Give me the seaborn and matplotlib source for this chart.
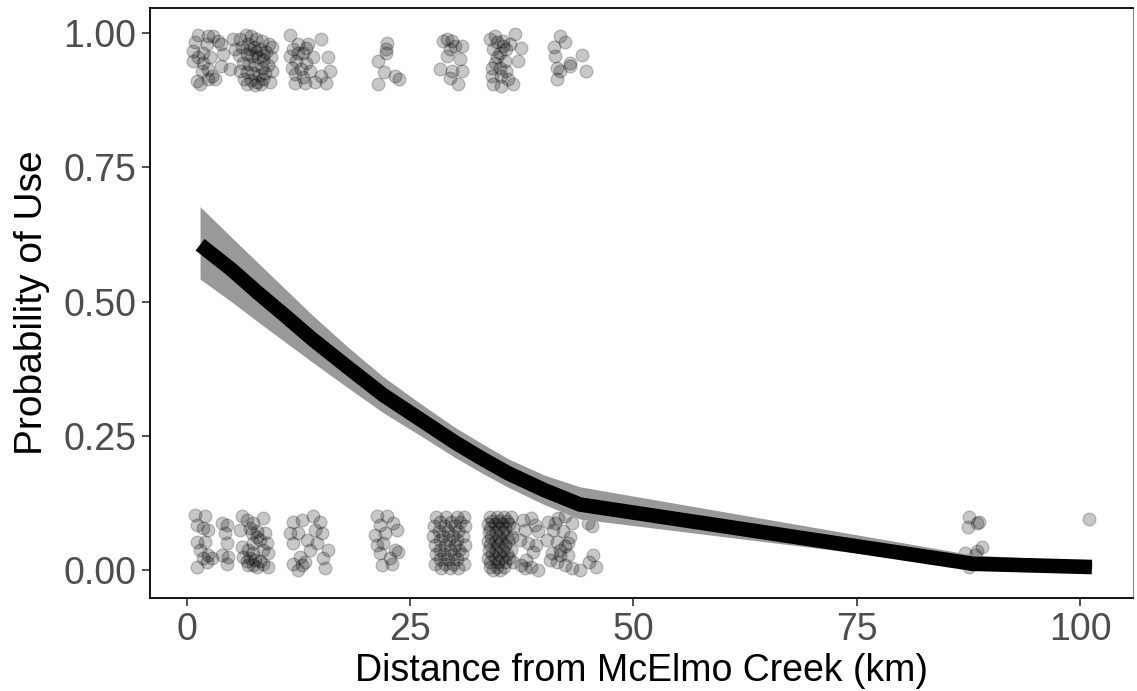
import matplotlib
matplotlib.use("Agg")
import matplotlib.pyplot as plt
import seaborn as sns
import pandas as pd

# ---- fitted curve (prediction and confidence band) ----
fit_x = [1.5, 5, 8, 11, 14, 18, 22, 26, 30, 33, 36, 40, 44, 88, 101.3]
fit_y = [0.606, 0.560, 0.516, 0.474, 0.431, 0.378, 0.326, 0.282, 0.238, 0.208, 0.180,
         0.149, 0.122, 0.0115, 0.0055]
fit_lo = [0.542, 0.500, 0.462, 0.425, 0.388, 0.340, 0.293, 0.252, 0.210, 0.181, 0.154,
          0.122, 0.095, 0.005, 0.002]
fit_hi = [0.677, 0.620, 0.572, 0.524, 0.476, 0.416, 0.360, 0.312, 0.266, 0.236, 0.207,
          0.177, 0.155, 0.028, 0.016]

# ---- used sites (jittered, near 1) ----
used_x = [
    # ~0-5 km
    1.22, 2.42, 2.97, 0.93, 2.23, 0.74, 1.86, 1.30, 0.74, 1.86, 2.60, 1.67, 2.42, 2.79,
    1.12, 1.48, 2.42, 3.17, 3.90, 4.09, 3.90, 4.84, 5.22, 5.40, 3.51,
    # ~6-10 km
    6.0, 6.6, 7.2, 7.8, 8.4, 9.2, 9.6, 6.2, 6.9, 7.5, 8.2, 8.9, 5.9, 6.7, 7.3, 8.0, 8.6,
    9.4, 6.3, 7.0, 7.7, 8.4, 9.1, 6.0, 6.8, 7.4, 8.1, 8.8, 9.5, 6.4, 7.2, 7.9, 8.6, 9.3,
    6.8, 7.6, 8.3, 7.1, 7.8, 8.5,
    # ~12-16 km
    11.55, 12.48, 13.56, 15.09, 11.93, 13.04, 14.15, 11.55, 12.29, 13.41, 15.83, 11.74,
    12.85, 13.76, 16.03, 15.09, 12.11, 13.04, 12.11, 13.23, 14.35, 15.63, 12.48, 13.41,
    # ~22 km
    22.43, 22.33, 22.33, 21.45, 22.14, 23.32, 23.71, 21.45,
    # ~29 km
    29.08, 29.71, 30.76, 29.45, 29.08, 30.57, 28.33, 29.64, 30.76, 29.45, 30.38, 30.01, 28.70,
    # ~35 km
    34.49, 34.68, 36.72, 37.47, 35.41, 36.16, 34.30, 35.04, 35.79, 34.68, 35.60, 37.09,
    34.12, 35.04, 35.79, 34.12, 35.23, 35.97, 34.30, 35.23, 36.53, 34.49, 35.41, 33.93,
    # ~42 km
    41.76, 42.39, 41.09, 41.20, 44.25, 42.87, 41.39, 41.76, 42.87, 44.74, 41.39,
]
used_y = [
    0.996, 0.994, 0.995, 0.983, 0.980, 0.967, 0.964, 0.955, 0.948, 0.945, 0.955, 0.930, 0.933, 0.920,
    0.911, 0.905, 0.914, 0.914, 0.980, 0.961, 0.939, 0.933, 0.989, 0.970, 0.986,
    0.990, 0.997, 0.995, 0.990, 0.985, 0.980, 0.975, 0.975, 0.980, 0.975, 0.970, 0.965, 0.960,
    0.962, 0.958, 0.955, 0.950, 0.955, 0.945, 0.942, 0.940, 0.935, 0.940, 0.930, 0.928, 0.925,
    0.922, 0.925, 0.930, 0.915, 0.912, 0.910, 0.915, 0.910, 0.905, 0.903, 0.905, 0.970, 0.965, 0.960,
    0.997, 0.980, 0.980, 0.989, 0.970, 0.964, 0.955, 0.958, 0.948, 0.945, 0.955, 0.936,
    0.933, 0.930, 0.930, 0.920, 0.924, 0.918, 0.908, 0.908, 0.910, 0.908, 0.964, 0.972,
    0.981, 0.970, 0.964, 0.948, 0.928, 0.920, 0.914, 0.905,
    0.989, 0.986, 0.977, 0.971, 0.958, 0.952, 0.933, 0.930, 0.930, 0.917, 0.905, 0.977, 0.986,
    0.995, 0.983, 0.998, 0.973, 0.986, 0.980, 0.971, 0.964, 0.971, 0.955, 0.949, 0.949,
    0.936, 0.936, 0.930, 0.920, 0.920, 0.914, 0.905, 0.902, 0.905, 0.945, 0.977, 0.989,
    0.995, 0.983, 0.974, 0.958, 0.960, 0.945, 0.935, 0.930, 0.939, 0.930, 0.915,
]

# ---- available (unused) sites (jittered, near 0) ----
avail_x = [
    # ~1-3 km
    0.93, 2.05, 1.12, 1.86, 2.42, 1.12, 2.05, 1.49, 2.42, 1.86, 1.12, 2.24, 2.80,
    # ~4 km
    3.91, 4.47, 4.28, 4.47, 3.91, 4.66, 4.47,
    # ~6-9 km
    6.15, 6.71, 7.45, 8.57, 5.96, 7.08, 7.83, 8.76, 8.20, 8.95, 7.45, 6.15, 6.89, 8.57,
    9.13, 6.33, 7.08, 7.64, 8.20, 6.89, 7.83, 9.13, 8.57, 7.45, 7.83, 7.27, 6.71, 7.45,
    # ~12-15 km
    11.92, 12.86, 14.16, 14.91, 11.55, 12.48, 13.42, 14.35, 15.10, 11.92, 14.54, 13.79,
    15.84, 12.67, 11.92, 12.86, 12.48, 15.28, 15.47, 13.23,
    # ~22 km
    21.25, 22.37, 21.62, 23.11, 21.06, 22.19, 23.49, 21.25, 21.99, 23.30, 21.62, 22.74,
    21.81, 22.93, 23.67,
    # ~29 km
    27.9, 29.0, 30.2, 31.0, 28.4, 29.6, 30.6, 27.7, 28.9, 30.0, 31.2, 28.2, 29.3, 30.4,
    27.6, 28.7, 29.8, 30.9, 28.3, 29.4, 30.3, 27.8, 28.9, 30.0, 31.1, 28.4, 29.5, 30.5,
    27.9, 28.8, 29.9, 30.8, 28.3, 29.3, 30.3, 27.8, 28.9, 29.8, 31.0, 28.5, 29.5, 30.4,
    # ~35 km
    33.9, 34.7, 35.5, 36.3, 34.2, 35.0, 35.8, 33.7, 34.5, 35.3, 36.1, 34.0, 34.9, 35.6,
    36.5, 33.8, 34.6, 35.4, 34.1, 34.9, 35.8, 36.4, 33.7, 34.5, 35.2, 36.0, 34.0, 34.8,
    35.6, 33.8, 34.6, 35.4, 36.3, 34.2, 35.0, 35.8, 33.7, 34.5, 35.3, 36.1, 34.0, 34.8,
    35.6, 36.5, 33.9, 34.7, 35.5, 34.3, 35.1,
    # ~38 km
    37.65, 38.59, 38.96, 37.84, 39.33, 37.28, 38.21, 39.15, 38.77, 38.03, 37.47, 38.59,
    39.33, 37.84,
    # ~42 km
    40.45, 41.57, 42.32, 43.07, 41.01, 42.13, 42.88, 41.39, 42.32, 40.27, 40.83, 41.76,
    42.69, 41.39, 42.32, 43.07, 40.64, 41.76, 42.69, 41.20,
    # ~45 km
    44.9, 45.4, 45.5, 45.0, 45.8, 44.0,
    # ~88 km
    87.6, 87.4, 88.4, 88.7, 87.1, 88.4, 89.0, 88.2, 87.6, 87.8,
    # ~101 km
    101.0,
]
avail_y = [
    0.103, 0.100, 0.084, 0.078, 0.075, 0.053, 0.053, 0.037, 0.028, 0.022, 0.006, 0.015, 0.022,
    0.087, 0.084, 0.068, 0.050, 0.028, 0.025, 0.012,
    0.100, 0.093, 0.087, 0.096, 0.075, 0.078, 0.072, 0.068, 0.056, 0.050, 0.050, 0.043, 0.037, 0.037,
    0.031, 0.025, 0.022, 0.019, 0.016, 0.009, 0.006, 0.006, 0.012, 0.031, 0.062, 0.068, 0.016, 0.009,
    0.090, 0.093, 0.100, 0.090, 0.068, 0.068, 0.056, 0.075, 0.068, 0.050, 0.050, 0.037,
    0.037, 0.025, 0.012, 0.009, 0.000, 0.022, 0.003, 0.015,
    0.100, 0.100, 0.084, 0.087, 0.065, 0.068, 0.075, 0.047, 0.050, 0.037, 0.031, 0.022,
    0.009, 0.012, 0.034,
    0.098, 0.098, 0.098, 0.098, 0.090, 0.090, 0.090, 0.082, 0.082, 0.082, 0.082, 0.073, 0.073, 0.073,
    0.064, 0.064, 0.064, 0.064, 0.056, 0.056, 0.056, 0.047, 0.047, 0.047, 0.047, 0.038, 0.038, 0.038,
    0.030, 0.030, 0.030, 0.030, 0.021, 0.021, 0.021, 0.012, 0.012, 0.012, 0.012, 0.004, 0.004, 0.004,
    0.099, 0.099, 0.099, 0.099, 0.092, 0.092, 0.092, 0.085, 0.085, 0.085, 0.085, 0.078, 0.078, 0.078,
    0.078, 0.070, 0.070, 0.070, 0.062, 0.062, 0.062, 0.062, 0.054, 0.054, 0.054, 0.054, 0.046, 0.046,
    0.046, 0.038, 0.038, 0.038, 0.038, 0.030, 0.030, 0.030, 0.022, 0.022, 0.022, 0.022, 0.014, 0.014,
    0.014, 0.014, 0.006, 0.006, 0.006, 0.000, 0.000,
    0.093, 0.096, 0.084, 0.075, 0.072, 0.056, 0.050, 0.047, 0.034, 0.019, 0.010, 0.006,
    0.000, 0.003,
    0.090, 0.096, 0.100, 0.087, 0.075, 0.072, 0.062, 0.053, 0.044, 0.056, 0.031, 0.028,
    0.028, 0.015, 0.009, 0.003, 0.019, 0.037, 0.050, 0.087,
    0.087, 0.082, 0.028, 0.015, 0.006, 0.000,
    0.098, 0.081, 0.087, 0.090, 0.032, 0.036, 0.043, 0.028, 0.005, 0.012,
    0.095,
]

x_ticks = [0, 25, 50, 75, 100]
y_ticks = [0.00, 0.25, 0.50, 0.75, 1.00]
y_tick_labels = ["0.00", "0.25", "0.50", "0.75", "1.00"]
x_title = "Distance from McElmo Creek (km)"
y_title = "Probability of Use"

pts = pd.DataFrame({
    "dist": used_x + avail_x,
    "prob": used_y + avail_y,
})
fit = pd.DataFrame({"dist": fit_x, "prob": fit_y, "lo": fit_lo, "hi": fit_hi})

sns.set_theme(style="white")
plt.rcParams["font.family"] = ["Liberation Sans", "DejaVu Sans"]

fig = plt.figure(figsize=(11.37, 6.91), dpi=100)
ax = fig.add_axes([150 / 1137, 93 / 691, 983 / 1137, 590 / 691])

sns.scatterplot(data=pts, x="dist", y="prob", ax=ax, s=85, color="black",
                alpha=0.22, edgecolor="black", linewidth=0.9, zorder=2, legend=False)
ax.fill_between(fit["dist"], fit["lo"], fit["hi"], color="#999999", linewidth=0, zorder=3)
sns.lineplot(data=fit, x="dist", y="prob", ax=ax, color="black", linewidth=10.5,
             solid_capstyle="butt", solid_joinstyle="round", zorder=4)

ax.set_xlim(-4.1, 105.9)
ax.set_ylim(-0.0522, 1.047)
ax.set_xticks(x_ticks)
ax.set_yticks(y_ticks)
ax.set_yticklabels(y_tick_labels)
ax.tick_params(axis="both", which="major", direction="out", length=6, width=1.2,
               color="#333333", labelsize=27, labelcolor="#4D4D4D", pad=4,
               bottom=True, left=True)
ax.set_xlabel(x_title, fontsize=27, color="black")
ax.set_ylabel(y_title, fontsize=28, color="black")
ax.xaxis.set_label_coords(0.5, (691 - 653 - 93) / 590)
ax.yaxis.set_label_coords((50 - 150) / 983, 0.5)

for side in ["left", "bottom", "top"]:
    ax.spines[side].set_visible(True)
    ax.spines[side].set_color("black")
    ax.spines[side].set_linewidth(1.3)
ax.spines["right"].set_visible(True)
ax.spines["right"].set_color("#888888")
ax.spines["right"].set_linewidth(0.8)

fig.savefig("out.png", dpi=100)
